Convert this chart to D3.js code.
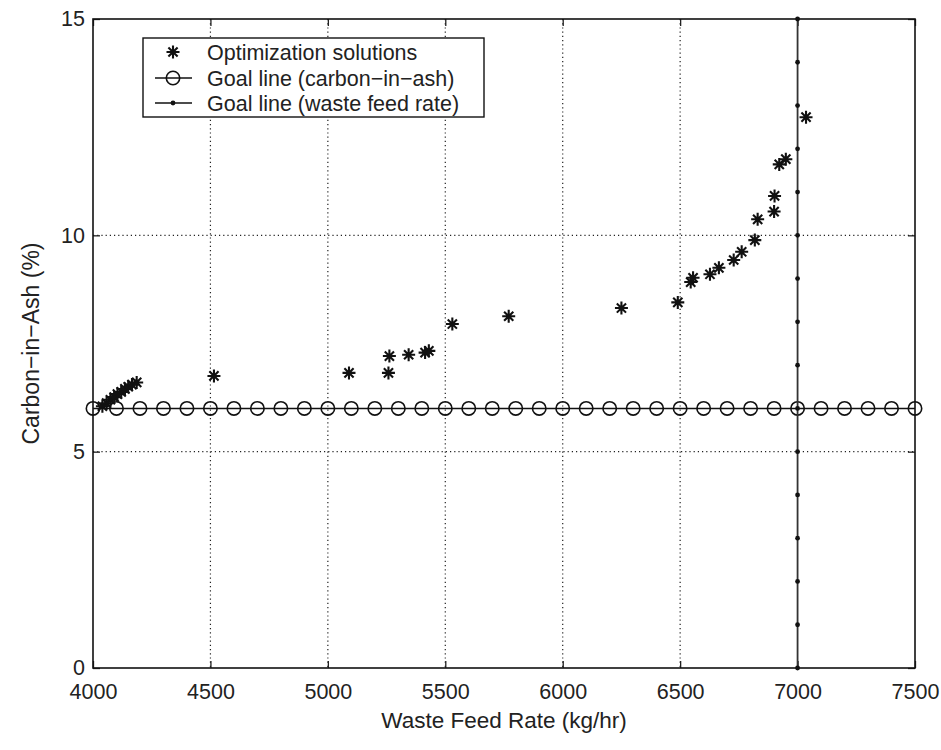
<!DOCTYPE html>
<html>
<head>
<meta charset="utf-8">
<script src="https://cdn.jsdelivr.net/npm/d3@7"></script>
<style>
  body { margin: 0; background: #fff; }
  text { font-family: "Liberation Sans", Arial, Helvetica, sans-serif; fill: #222; }
</style>
</head>
<body>
<svg id="chart" width="941" height="750"></svg>
<script>
// optimization solutions (kg/hr, %)
var solX = [4040, 4058, 4074, 4090, 4104, 4120, 4136, 4150, 4166, 4186,
            4515, 5090, 5258, 5262, 5344, 5414, 5430, 5530, 5770, 6250,
            6490, 6545, 6555, 6627, 6665, 6728, 6762, 6818, 6830, 6900,
            6902, 6922, 6950, 7036];
var solY = [6.05, 6.12, 6.2, 6.26, 6.33, 6.38, 6.45, 6.5, 6.55, 6.6,
            6.75, 6.82, 6.82, 7.21, 7.24, 7.29, 7.33, 7.95, 8.13, 8.32,
            8.45, 8.92, 9.02, 9.1, 9.25, 9.43, 9.62, 9.89, 10.37, 10.55,
            10.91, 11.64, 11.76, 12.73];

// goal line carbon-in-ash = 6 %
var goalAshX = [4000, 4100, 4200, 4300, 4400, 4500, 4600, 4700, 4800, 4900,
                5000, 5100, 5200, 5300, 5400, 5500, 5600, 5700, 5800, 5900,
                6000, 6100, 6200, 6300, 6400, 6500, 6600, 6700, 6800, 6900,
                7000, 7100, 7200, 7300, 7400, 7500];
var goalAshY = 6;

// goal line waste feed rate = 7000 kg/hr
var goalFeedX = 7000;
var goalFeedY = [0, 1, 2, 3, 4, 5, 6, 7, 8, 9, 10, 11, 12, 13, 14, 15];

var xTicks = [4000, 4500, 5000, 5500, 6000, 6500, 7000, 7500];
var yTicks = [0, 5, 10, 15];
var legendLabels = ["Optimization solutions", "Goal line (carbon\u2212in\u2212ash)", "Goal line (waste feed rate)"];

var svg = d3.select("#chart");
var plotL = 93, plotR = 915, plotT = 19, plotB = 668;

var x = d3.scaleLinear().domain([4000, 7500]).range([plotL, plotR]);
var y = d3.scaleLinear().domain([0, 15]).range([plotB, plotT]);

// dotted grid
svg.append("g").selectAll("line")
    .data(xTicks.filter(d => d > 4000 && d < 7000))
    .enter().append("line")
    .attr("x1", d => x(d)).attr("x2", d => x(d))
    .attr("y1", plotT).attr("y2", plotB)
    .attr("stroke", "#222").attr("stroke-width", 1.2)
    .attr("stroke-dasharray", "1.2,3");
svg.append("g").selectAll("line")
    .data(yTicks.filter(d => d > 0 && d < 15))
    .enter().append("line")
    .attr("x1", plotL).attr("x2", plotR)
    .attr("y1", d => y(d)).attr("y2", d => y(d))
    .attr("stroke", "#222").attr("stroke-width", 1.2)
    .attr("stroke-dasharray", "1.2,3");

// axes with inward ticks
var h = plotB - plotT, w = plotR - plotL;
svg.append("g").attr("transform", "translate(0," + plotB + ")")
    .call(d3.axisBottom(x).tickValues(xTicks).tickSizeInner(-7).tickSizeOuter(0).tickPadding(16).tickFormat(d3.format("d")))
    .call(g => g.select(".domain").remove())
    .call(g => g.selectAll("text").attr("font-size", 21.5).attr("fill", "#222"));
svg.append("g").attr("transform", "translate(0," + plotT + ")")
    .call(d3.axisTop(x).tickValues(xTicks).tickSizeInner(-7).tickSizeOuter(0).tickFormat(""))
    .call(g => g.select(".domain").remove());
svg.append("g").attr("transform", "translate(" + plotL + ",0)")
    .call(d3.axisLeft(y).tickValues(yTicks).tickSizeInner(-7).tickSizeOuter(0).tickPadding(8))
    .call(g => g.select(".domain").remove())
    .call(g => g.selectAll("text").attr("font-size", 21.5).attr("fill", "#222"));
svg.append("g").attr("transform", "translate(" + plotR + ",0)")
    .call(d3.axisRight(y).tickValues(yTicks).tickSizeInner(-7).tickSizeOuter(0).tickFormat(""))
    .call(g => g.select(".domain").remove());
svg.selectAll(".tick line").attr("stroke", "#222").attr("stroke-width", 1.3);

svg.append("rect")
    .attr("x", plotL).attr("y", plotT).attr("width", w).attr("height", h)
    .attr("fill", "none").attr("stroke", "#111").attr("stroke-width", 1.6);

// goal line carbon-in-ash
svg.append("line")
    .attr("x1", x(goalAshX[0])).attr("x2", x(goalAshX[goalAshX.length - 1]))
    .attr("y1", y(goalAshY)).attr("y2", y(goalAshY))
    .attr("stroke", "#111").attr("stroke-width", 1.5);
svg.append("g").selectAll("circle")
    .data(goalAshX).enter().append("circle")
    .attr("cx", d => x(d)).attr("cy", y(goalAshY)).attr("r", 6.7)
    .attr("fill", "none").attr("stroke", "#111").attr("stroke-width", 1.6);

// goal line waste feed rate
svg.append("line")
    .attr("x1", x(goalFeedX)).attr("x2", x(goalFeedX))
    .attr("y1", y(0)).attr("y2", y(15))
    .attr("stroke", "#333").attr("stroke-width", 1.8);
svg.append("g").selectAll("circle")
    .data(goalFeedY).enter().append("circle")
    .attr("cx", x(goalFeedX)).attr("cy", d => y(d)).attr("r", 2.4)
    .attr("fill", "#111");

// star marker
var star = "M-6.5,0H6.5M0,-6.5V6.5M-4.6,-4.6L4.6,4.6M-4.6,4.6L4.6,-4.6";
svg.append("g").selectAll("path")
    .data(solX).enter().append("path")
    .attr("d", star)
    .attr("transform", (d, i) => "translate(" + x(d) + "," + y(solY[i]) + ")")
    .attr("stroke", "#111").attr("stroke-width", 2.1).attr("fill", "none");

// legend
var lg = svg.append("g");
lg.append("rect").attr("x", 143).attr("y", 38).attr("width", 341).attr("height", 79)
    .attr("fill", "#fff").attr("stroke", "#111").attr("stroke-width", 1.4);
var rows = [52, 78, 103];
lg.append("path").attr("d", star).attr("transform", "translate(173," + rows[0] + ")")
    .attr("stroke", "#111").attr("stroke-width", 2.1).attr("fill", "none");
lg.append("line").attr("x1", 155).attr("x2", 192).attr("y1", rows[1]).attr("y2", rows[1])
    .attr("stroke", "#111").attr("stroke-width", 1.5);
lg.append("circle").attr("cx", 173).attr("cy", rows[1]).attr("r", 6.7)
    .attr("fill", "none").attr("stroke", "#111").attr("stroke-width", 1.6);
lg.append("line").attr("x1", 155).attr("x2", 192).attr("y1", rows[2]).attr("y2", rows[2])
    .attr("stroke", "#111").attr("stroke-width", 1.5);
lg.append("circle").attr("cx", 173).attr("cy", rows[2]).attr("r", 2.4).attr("fill", "#111");
lg.selectAll("text.lab").data(legendLabels).enter().append("text")
    .attr("class", "lab")
    .attr("x", 207).attr("y", (d, i) => rows[i])
    .attr("dy", "0.36em").attr("font-size", 21.5)
    .text(d => d);

// axis titles
svg.append("text")
    .attr("x", (plotL + plotR) / 2).attr("y", 728)
    .attr("text-anchor", "middle").attr("font-size", 22.5)
    .text("Waste Feed Rate (kg/hr)");
svg.append("text")
    .attr("transform", "translate(39," + ((plotT + plotB) / 2) + ") rotate(-90)")
    .attr("text-anchor", "middle").attr("font-size", 23)
    .text("Carbon\u2212in\u2212Ash (%)");
</script>
</body>
</html>
